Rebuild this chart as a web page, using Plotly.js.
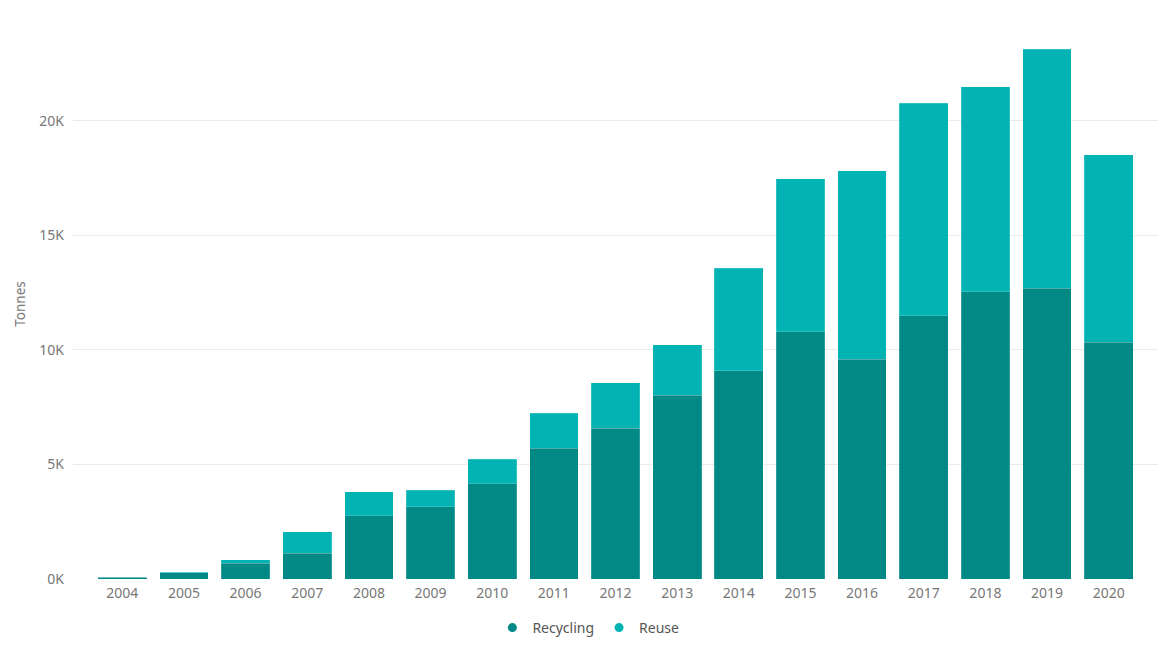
<!DOCTYPE html>
<html>
<head>
<meta charset="utf-8">
<script src="https://cdn.plot.ly/plotly-3.0.1.min.js"></script>
<style>html,body{margin:0;padding:0;background:#fff;}#chart{width:1176px;height:656px;}</style>
</head>
<body>
<div id="chart"></div>
<script>
const years = ['2004','2005','2006','2007','2008','2009','2010','2011','2012','2013','2014','2015','2016','2017','2018','2019','2020'];
const recycling = [70, 270, 690, 1120, 2770, 3150, 4150, 5700, 6570, 8020, 9090, 10780, 9600, 11480, 12540, 12690, 10340];
const reuse = [10, 30, 160, 940, 1040, 720, 1080, 1530, 1990, 2200, 4480, 6690, 8220, 9280, 8950, 10430, 8170];
const yTickVals = [0, 5000, 10000, 15000, 20000];
const yTickText = ['0K', '5K', '10K', '15K', '20K'];

const cRec = '#018986';
const cReu = '#01B3B2';
const font = 'Noto Sans, Open Sans, DejaVu Sans, sans-serif';

const traces = [
  {type:'bar', x:years, y:recycling, name:'Recycling', marker:{color:cRec, line:{color:'rgba(255,255,255,0.35)', width:0.5}}, showlegend:false, hoverinfo:'x+y'},
  {type:'bar', x:years, y:reuse, name:'Reuse', marker:{color:cReu, line:{color:'rgba(255,255,255,0.35)', width:0.5}}, showlegend:false, hoverinfo:'x+y'},
  {type:'scatter', mode:'markers', x:[null], y:[null], name:'Recycling', marker:{color:cRec, symbol:'circle', size:9}},
  {type:'scatter', mode:'markers', x:[null], y:[null], name:'Reuse', marker:{color:cReu, symbol:'circle', size:9}}
];

const layout = {
  width:1176, height:656,
  margin:{l:73, r:18, t:29, b:75},
  barmode:'stack',
  bargap:0.21,
  paper_bgcolor:'#fff', plot_bgcolor:'#fff',
  font:{family:font, size:14, color:'#777777'},
  xaxis:{type:'category', range:[-0.8, 16.8], showgrid:false, zeroline:false, showline:false, ticks:'', ticklabelstandoff:4, tickfont:{size:14, color:'#777777'}, fixedrange:true},
  yaxis:{range:[0, 24000], tickvals:yTickVals, ticktext:yTickText, showgrid:true, gridcolor:'#EAEAEA', gridwidth:1, zeroline:false, showline:false, ticks:'', ticklabelstandoff:8, tickfont:{size:14, color:'#777777'},
    title:{text:'Tonnes', font:{size:13.5, color:'#777777'}, standoff:10}, fixedrange:true},
  showlegend:true,
  legend:{orientation:'h', traceorder:'normal', x:0.475, xanchor:'center', y:-0.06, yanchor:'top', font:{size:14, color:'#555555'}, itemwidth:30, tracegroupgap:0},
  hovermode:'closest'
};

Plotly.newPlot('chart', traces, layout, {displayModeBar:false, staticPlot:true});
</script>
</body>
</html>
